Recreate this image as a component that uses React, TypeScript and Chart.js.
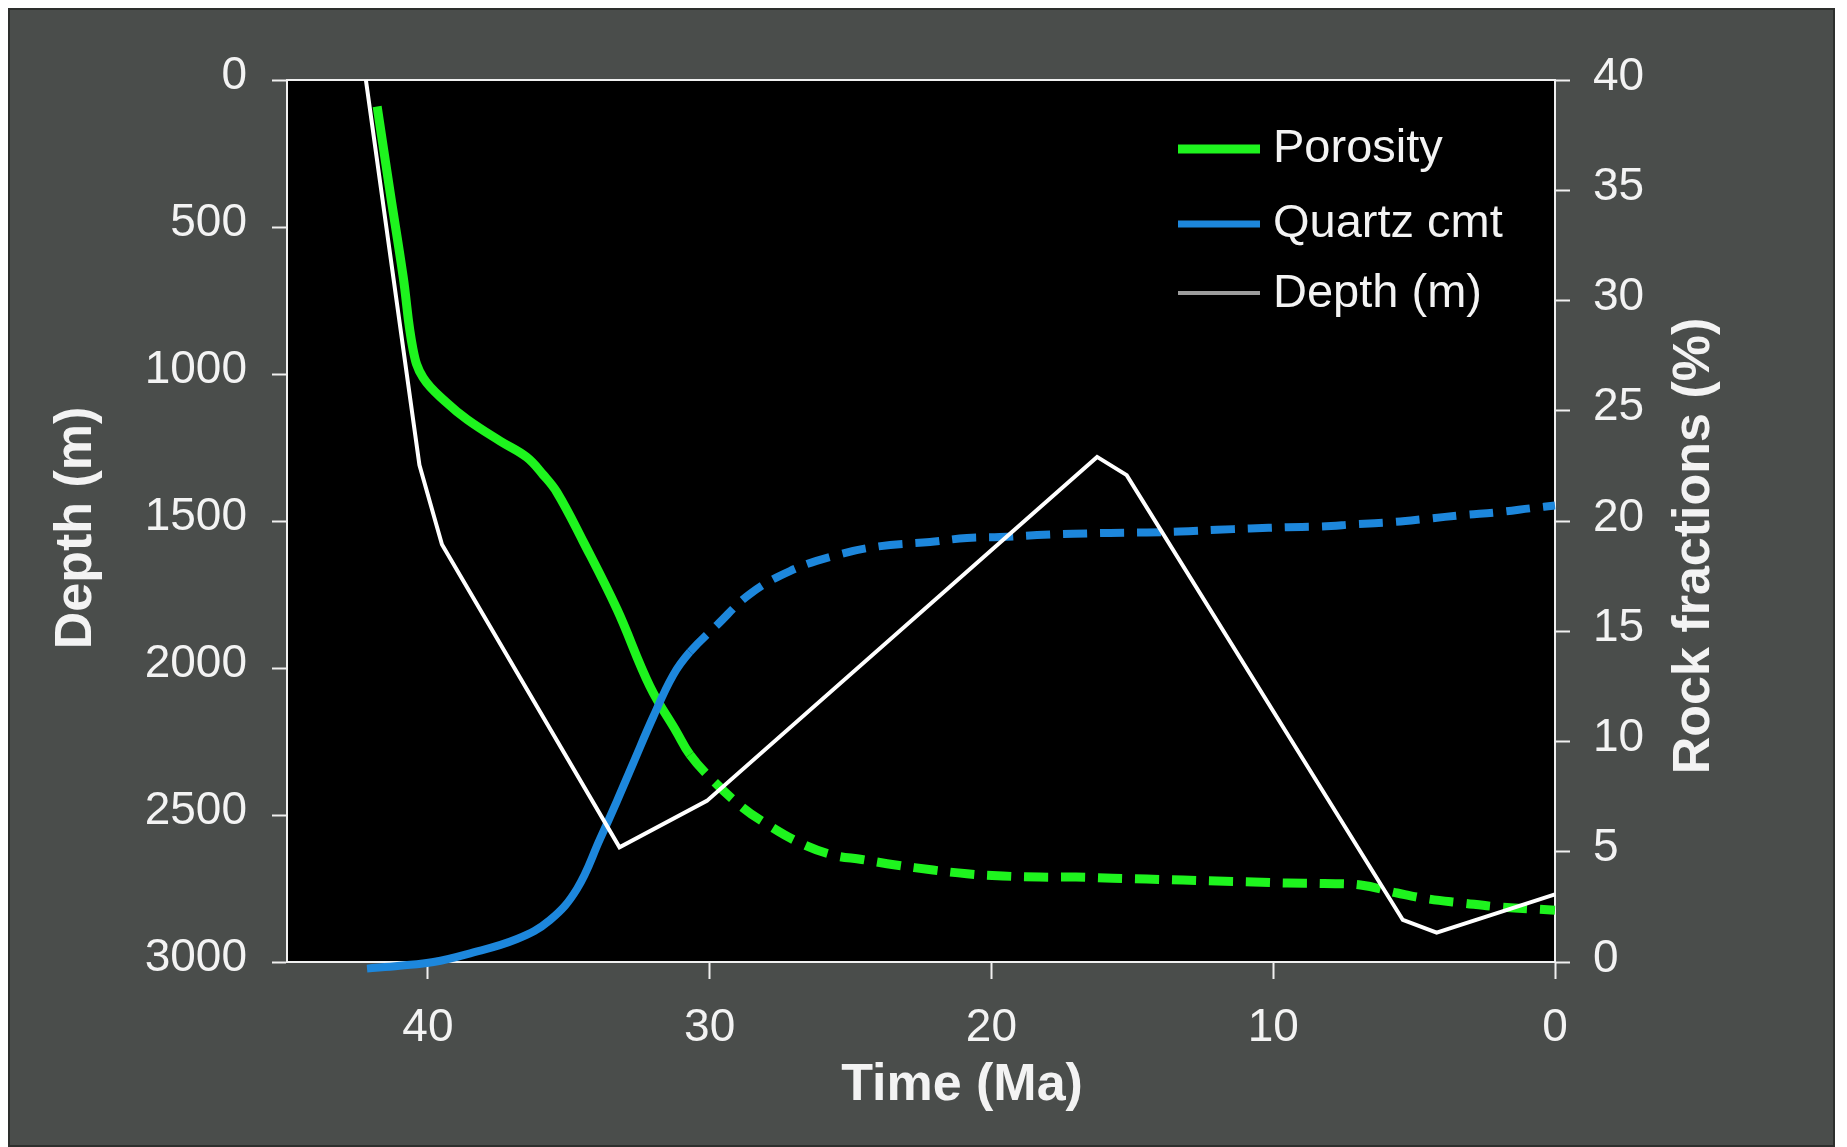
import React, { useEffect, useRef } from 'react';
import { Chart, registerables } from 'chart.js';

Chart.register(...registerables);

// ---- Data ----
const depthTime = [42.2, 40.3, 39.5, 33.2, 30.1, 16.25, 15.2, 5.4, 4.2, 0];
const depthValues = [0, 1310, 1580, 2610, 2452, 1282, 1344, 2857, 2900, 2770];

const porosityTime = [
  41.8, 41.34, 40.88, 40.53, 40.17, 39.32, 38.6, 37.44, 36.5, 35.91, 35.42, 34.5, 33.29, 32.12,
  31.16, 30.7, 30.09, 28.92, 27.97, 26.79, 25.62, 24.6, 23.4, 22.07, 20.87, 19.6, 18.3, 17.0,
  15.7, 14.5, 13.2, 12.0, 10.7, 9.5, 8.2, 6.9, 5.6, 4.5, 3.3, 2.0, 0,
];
const porosityValues = [
  38.8, 34.9, 31.1, 27.8, 26.5, 25.35, 24.6, 23.63, 22.9, 22.1, 21.3, 19.1, 16.0, 12.5,
  10.4, 9.4, 8.5, 7.1, 6.25, 5.4, 4.85, 4.65, 4.4, 4.17, 4.0, 3.9, 3.85, 3.85,
  3.8, 3.76, 3.72, 3.67, 3.63, 3.58, 3.56, 3.49, 3.13, 2.86, 2.68, 2.5, 2.35,
];

const quartzTime = [
  42.16, 41.0, 39.8, 38.6, 36.84, 35.67, 34.71, 33.89, 33.29, 32.72, 32.01, 31.3, 30.7, 29.74,
  28.57, 27.15, 25.62, 24.0, 22.18, 20.87, 19.7, 18.38, 17.1, 15.79, 14.48, 13.31, 12.0, 10.82,
  9.51, 8.3, 7.03, 5.78, 4.54, 3.27, 2.02, 0.78, 0,
];
const quartzValues = [
  -0.3, -0.17, 0.0, 0.36, 1.04, 1.9, 3.31, 5.58, 7.3, 9.0, 11.1, 13.0, 14.06, 15.28,
  16.69, 17.73, 18.41, 18.85, 19.05, 19.23, 19.27, 19.36, 19.42, 19.46, 19.48, 19.52, 19.6, 19.66,
  19.72, 19.75, 19.86, 19.95, 20.1, 20.27, 20.4, 20.59, 20.7,
];

const timeTicks = [40, 30, 20, 10, 0];
const depthTicks = [0, 500, 1000, 1500, 2000, 2500, 3000];
const fractionTicks = [0, 5, 10, 15, 20, 25, 30, 35, 40];
const dashedFromTime = 30.7;

const seriesLabels = ['Porosity', 'Quartz cmt', 'Depth (m)'];
const titleTime = 'Time (Ma)';
const titleDepth = 'Depth (m)';
const titleFractions = 'Rock fractions (%)';

const FONT = "'Liberation Sans', Arial, Helvetica, sans-serif";
const TEXT = '#f3f3f3';
const AXIS = '#f0f0f0';
const GREEN = '#1ef41e';
const BLUE = '#1d87dc';
const DASH = [24, 13];

const toPoints = (xs: number[], ys: number[]) => xs.map((x, i) => ({ x, y: ys[i] }));
const plainLabel = (v: any) => String(v);

const frameAndTitles = {
  id: 'frameAndTitles',
  beforeDraw(chart: any) {
    const { ctx, chartArea } = chart;
    ctx.save();
    ctx.fillStyle = '#000000';
    ctx.fillRect(chartArea.left, chartArea.top, chartArea.right - chartArea.left, chartArea.bottom - chartArea.top);
    ctx.restore();
  },
  beforeDatasetsDraw(chart: any) {
    const { ctx, chartArea } = chart;
    ctx.save();
    ctx.strokeStyle = AXIS;
    ctx.lineWidth = 2;
    ctx.beginPath();
    ctx.moveTo(chartArea.left - 1, chartArea.top);
    ctx.lineTo(chartArea.right + 1, chartArea.top);
    ctx.stroke();
    ctx.restore();
  },
  afterDraw(chart: any) {
    const { ctx, chartArea } = chart;
    const L = chartArea.left;
    const T = chartArea.top;
    ctx.save();
    // axis titles
    ctx.fillStyle = TEXT;
    ctx.font = `bold 52px ${FONT}`;
    ctx.textAlign = 'center';
    ctx.textBaseline = 'alphabetic';
    ctx.fillText(titleTime, (chartArea.left + chartArea.right) / 2 + 41, chartArea.bottom + 138);

    ctx.textBaseline = 'middle';
    ctx.save();
    ctx.translate(L - 210, (chartArea.top + chartArea.bottom) / 2 + 7);
    ctx.rotate(-Math.PI / 2);
    ctx.fillText(titleDepth, 0, 0);
    ctx.restore();

    ctx.save();
    ctx.translate(chartArea.right + 140, (chartArea.top + chartArea.bottom) / 2 + 25);
    ctx.rotate(-Math.PI / 2);
    ctx.fillText(titleFractions, 0, 0);
    ctx.restore();

    // legend (inside plot, upper right)
    const lineX0 = L + 891;
    const lineX1 = L + 973;
    const textX = L + 986;
    const rowsY = [69, 144, 213];
    const textBase = [82, 157, 227];
    ctx.font = `47px ${FONT}`;
    ctx.textAlign = 'left';
    ctx.textBaseline = 'alphabetic';
    chart.data.datasets.forEach((ds: any, i: number) => {
      ctx.strokeStyle = ds.legendColor || ds.borderColor;
      ctx.lineWidth = ds.legendWidth || ds.borderWidth;
      ctx.lineCap = 'butt';
      ctx.beginPath();
      ctx.moveTo(lineX0, T + rowsY[i]);
      ctx.lineTo(lineX1, T + rowsY[i]);
      ctx.stroke();
      ctx.fillStyle = TEXT;
      ctx.fillText(ds.label, textX, T + textBase[i]);
    });
    ctx.restore();
  },
};

export default function App() {
  const canvasRef = useRef<HTMLCanvasElement | null>(null);

  useEffect(() => {
    document.documentElement.style.overflow = 'hidden';
    const canvas = canvasRef.current;
    if (!canvas) return;

    const dashAfter = (ctx: any) => (ctx.p0.parsed.x <= dashedFromTime + 1e-6 ? DASH : undefined);

    const tickFont = { family: FONT, size: 46 };
    const gridBase = {
      display: true,
      drawOnChartArea: false,
      drawTicks: true,
      tickLength: 15,
      tickWidth: 2,
      tickColor: AXIS,
    };

    const chart = new Chart(canvas, {
      type: 'line',
      data: {
        datasets: [
          {
            label: seriesLabels[0],
            data: toPoints(porosityTime, porosityValues),
            yAxisID: 'yFrac',
            borderColor: GREEN,
            borderWidth: 9,
            legendWidth: 9,
            pointRadius: 0,
            tension: 0.4,
            borderCapStyle: 'butt',
            borderJoinStyle: 'round',
            segment: { borderDash: dashAfter },
            order: 2,
            clip: false,
          } as any,
          {
            label: seriesLabels[1],
            data: toPoints(quartzTime, quartzValues),
            yAxisID: 'yFrac',
            borderColor: BLUE,
            borderWidth: 8,
            legendWidth: 7,
            pointRadius: 0,
            tension: 0.4,
            borderCapStyle: 'butt',
            borderJoinStyle: 'round',
            segment: { borderDash: dashAfter },
            order: 1,
            clip: false,
          } as any,
          {
            label: seriesLabels[2],
            data: toPoints(depthTime, depthValues),
            yAxisID: 'yDepth',
            borderColor: '#ffffff',
            legendColor: '#9c9c9c',
            borderWidth: 4,
            legendWidth: 4,
            pointRadius: 0,
            tension: 0,
            order: 0,
            clip: false,
          } as any,
        ],
      },
      options: {
        animation: false,
        responsive: false,
        devicePixelRatio: 1,
        layout: { padding: { top: 70, left: 0, right: 0, bottom: 0 } },
        plugins: {
          legend: { display: false },
          tooltip: { enabled: false },
          title: { display: false },
        },
        scales: {
          x: {
            type: 'linear',
            position: 'bottom',
            min: 0,
            max: 45,
            reverse: true,
            afterBuildTicks: (scale: any) => {
              scale.ticks = timeTicks.map((v) => ({ value: v }));
            },
            afterFit: (scale: any) => {
              scale.height = 183;
            },
            ticks: { color: TEXT, font: tickFont, padding: 22, maxRotation: 0, autoSkip: false, callback: plainLabel },
            grid: { ...gridBase, tickLength: 17 },
            border: { display: true, color: AXIS, width: 2 },
          },
          yDepth: {
            type: 'linear',
            position: 'left',
            min: 0,
            max: 3000,
            reverse: true,
            afterBuildTicks: (scale: any) => {
              scale.ticks = depthTicks.map((v) => ({ value: v }));
            },
            afterFit: (scale: any) => {
              scale.width = 277;
            },
            ticks: { color: TEXT, font: tickFont, padding: 25, labelOffset: -4, autoSkip: false, callback: plainLabel },
            grid: gridBase,
            border: { display: true, color: AXIS, width: 2 },
          },
          yFrac: {
            type: 'linear',
            position: 'right',
            min: 0,
            max: 40,
            afterBuildTicks: (scale: any) => {
              scale.ticks = fractionTicks.map((v) => ({ value: v }));
            },
            afterFit: (scale: any) => {
              scale.width = 278;
            },
            ticks: { color: TEXT, font: tickFont, padding: 23, labelOffset: -3, autoSkip: false, callback: plainLabel },
            grid: gridBase,
            border: { display: true, color: AXIS, width: 2 },
          },
        },
      } as any,
      plugins: [frameAndTitles],
    });

    return () => {
      chart.destroy();
    };
  }, []);

  return (
    <div
      style={{
        width: 1827,
        height: 1139,
        boxSizing: 'border-box',
        border: '2px solid #2d2f2d',
        background: '#4a4d4b',
        position: 'relative',
        overflow: 'hidden',
      }}
    >
      <canvas ref={canvasRef} width={1823} height={1135} style={{ display: 'block', width: 1823, height: 1135 }} />
    </div>
  );
}
